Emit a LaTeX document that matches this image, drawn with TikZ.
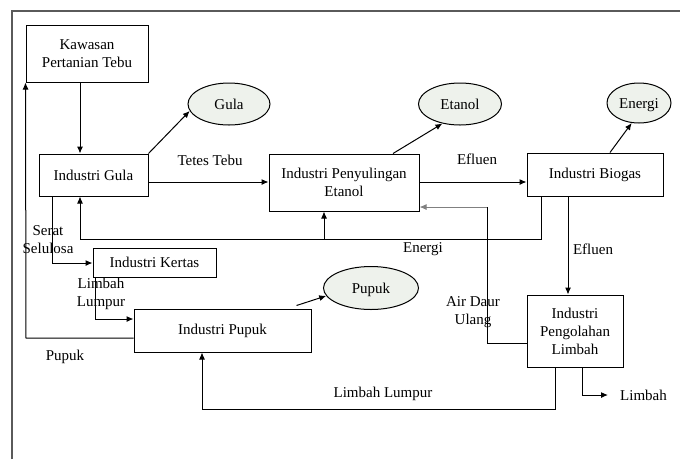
\documentclass[tikz,border=0pt]{standalone}
\usepackage{fontspec}
\setmainfont{Liberation Serif}
\usetikzlibrary{arrows.meta,shapes.geometric}
\definecolor{ovalfill}{HTML}{EEF2EC}
\definecolor{framegray}{HTML}{5A5A5A}

\begin{document}
\begin{tikzpicture}[x=1pt,y=-1pt,
    box/.style={draw,line width=1pt,align=center,inner sep=0pt,font=\fontsize{15}{18}\selectfont},
    oval/.style={draw,ellipse,line width=1pt,fill=ovalfill,inner sep=0pt,text height=10pt,text depth=0pt,font=\fontsize{15}{18}\selectfont},
    lbl/.style={align=center,inner sep=0pt,font=\fontsize{15}{18}\selectfont},
    arr/.style={line width=1pt,-{Latex[length=7pt,width=6pt]}},
    ln/.style={line width=1pt}]
    \useasboundingbox (0,0) rectangle (680,459);
    \draw[framegray,line width=1.3pt] (12,459) -- (12,11) -- (680,11);

    % boxes
    \node[box,minimum width=122pt,minimum height=57pt] (kawasan) at (87,53.5) {Kawasan\\Pertanian Tebu};
    \node[box,minimum width=109pt,minimum height=42pt] (gula) at (93.5,175) {Industri Gula};
    \node[box,minimum width=150pt,minimum height=57pt] (etanol) at (344,182.5) {Industri Penyulingan\\Etanol};
    \node[box,minimum width=136pt,minimum height=43pt] (biogas) at (595,174.5) {Industri Biogas};
    \node[box,minimum width=123pt,minimum height=29pt] (kertas) at (154.5,262.5) {Industri Kertas};
    \node[box,minimum width=177pt,minimum height=43pt] (pupuk) at (222.5,330.5) {Industri Pupuk};
    \node[box,minimum width=96pt,minimum height=72pt] (limbah) at (575,331) {Industri\\Pengolahan\\Limbah};

    % products
    \node[oval,minimum width=82pt,minimum height=42pt] (gulaoval) at (229,104) {Gula};
    \node[oval,minimum width=83pt,minimum height=42pt] (etanoloval) at (460,104) {Etanol};
    \node[oval,minimum width=64pt,minimum height=40pt] (energioval) at (639,103) {Energi};
    \node[oval,minimum width=95pt,minimum height=43pt] (pupukoval) at (371,288) {Pupuk};

    % labels
    \node[lbl] (tetes) at (210,160) {Tetes Tebu};
    \node[lbl] (efluen1) at (477,159) {Efluen};
    \node[lbl] (energi) at (423,249) {Energi};
    \node[lbl] (efluen2) at (593,249) {Efluen};
    \node[lbl] (airdaur) at (473,312) {Air Daur\\Ulang};
    \node[lbl] (serat) at (48,240) {Serat\\Selulosa};
    \node[lbl] (lumpur1) at (101,294) {Limbah\\Lumpur};
    \node[lbl] (pupuklbl) at (65,357) {Pupuk};
    \node[lbl] (lumpur2) at (383,394) {Limbah Lumpur};
    \node[lbl,anchor=west] (limbahout) at (620,395) {Limbah};

    % bends
    \coordinate (xg) at (80,239);
    \coordinate (en) at (541,239);
    \coordinate (ent) at (324,239);
    \coordinate (ef) at (568,239);
    \coordinate (ad) at (487,207);
    \coordinate (adb) at (487,343);
    \coordinate (ss) at (52,263);
    \coordinate (ll) at (95,319);
    \coordinate (pf) at (26,338);
    \coordinate (lb) at (555,409);
    \coordinate (lp) at (202,409);
    \coordinate (lo) at (582,395);

    % flows
    \draw[arr] (kawasan.south -| xg) -- (gula.north -| xg);
    \draw[arr] (gula.north east) -- (gulaoval.190);
    \draw[arr] (gula.east |- 0,182) -- (etanol.west |- 0,182);
    \draw[arr] ([xshift=49pt]etanol.north) -- (etanoloval.228);
    \draw[arr] (etanol.east |- 0,182) -- (biogas.west |- 0,182);
    \draw[arr] ([xshift=15pt]biogas.north) -- (energioval.250);
    \draw[arr] (biogas.south -| en) -- (en) -- (xg) -- (gula.south -| xg);
    \draw[arr] (ent) -- (etanol.south -| ent);
    \draw[arr] (biogas.south -| ef) -- (limbah.north -| ef);
    \draw[ln] (limbah.west |- adb) -- (adb) -- (ad);
    \draw[arr,gray] (ad) -- (etanol.east |- ad);
    \draw[arr] (gula.south -| ss) -- (ss) -- (kertas.west |- ss);
    \draw[arr] (kertas.south -| ll) -- (ll) -- (pupuk.west |- ll);
    \draw[arr] (pupuk.west |- pf) -- (pf) -- (kawasan.south west);
    \draw[arr] ([xshift=74pt,yshift=3pt]pupuk.north) -- (pupukoval.190);
    \draw[arr] (limbah.south -| lb) -- (lb) -- (lp) -- (pupuk.south -| lp);
    \draw[arr] (limbah.south -| lo) -- (lo) -- ([xshift=-12pt]limbahout.west);
\end{tikzpicture}
\end{document}
